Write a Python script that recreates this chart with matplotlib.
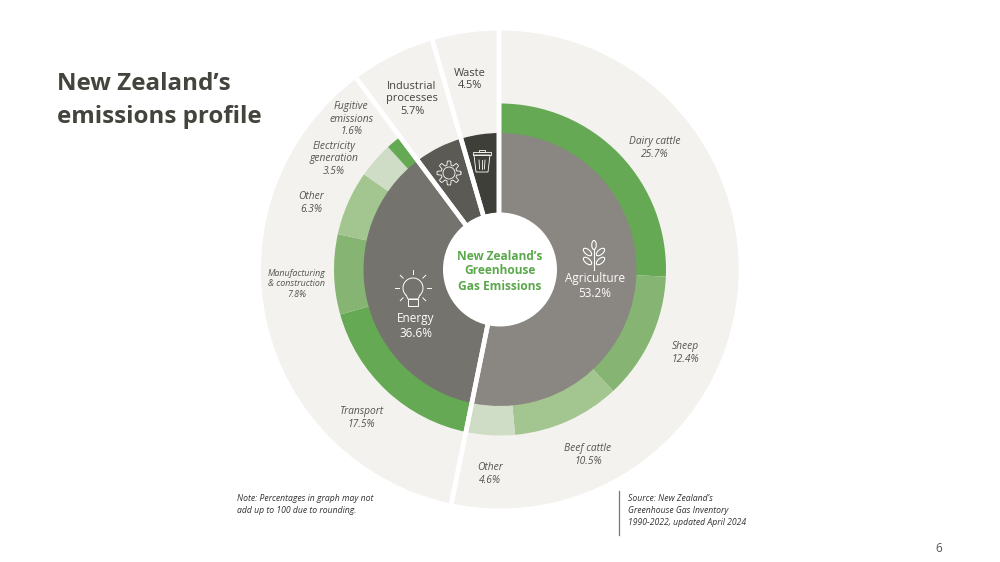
import matplotlib
matplotlib.use('Agg')
import matplotlib.pyplot as plt
import numpy as np
from matplotlib.patches import Circle, Ellipse, Polygon, Rectangle

plt.rcParams['font.family'] = ['Open Sans', 'DejaVu Sans']

# data
sector_names = ["Agriculture", "Energy", "Industrial\nprocesses", "Waste"]
sector_values = [53.2, 36.6, 5.7, 4.5]
sector_colors = ["#8a8681", "#75736d", "#5c5a54", "#3f3f39"]

source_names = ["Dairy cattle", "Sheep", "Beef cattle", "Other", "Transport",
                "Manufacturing\n& construction", "Other", "Electricity\ngeneration",
                "Fugitive\nemissions"]
source_values = [25.7, 12.4, 10.5, 4.6, 17.5, 7.8, 6.3, 3.5, 1.6]
source_colors = ["#66a955", "#86b573", "#a3c58f", "#cfddc6", "#66a955",
                 "#86b573", "#a3c58f", "#cfddc6", "#66a955"]

CX, CY = 500, 269.5
R_OUT, R_MID, R_IN, R_HOLE = 239, 166, 136.5, 57
BG = "#f3f2ee"
DARK = "#44443e"
GREEN = "#5aa84b"


def Y(y):
    # picture rows run downwards
    return 562 - y


def ring(ax, values, colors, radius, cx=CX, **kw):
    props = dict(linewidth=0)
    props.update(kw)
    ax.pie(values, colors=colors, radius=radius, center=(cx, Y(CY)), startangle=90,
           counterclock=False, wedgeprops=props, frame=True)


def label(ax, x, y, s, size=8, color="#55554f", style='italic', weight='normal', **kw):
    ax.text(x, Y(y), s, fontsize=size, color=color, style=style, weight=weight,
            ha='center', va='center', linespacing=1.2, **kw)


def gear(ax, x, y):
    t = np.linspace(0, 2 * np.pi, 193)
    r = 10 + 2 * np.clip(2.2 * np.cos(8 * t), -1, 1)
    ax.plot(x + r * np.cos(t), Y(y) + r * np.sin(t), color="white", lw=0.6)
    ax.add_patch(Circle((x, Y(y)), 6, fill=False, ec="white", lw=0.6))


def trash(ax, x, y):
    ax.add_patch(Polygon([(x - 8, Y(y - 6)), (x + 8, Y(y - 6)), (x + 6, Y(y + 11)), (x - 6, Y(y + 11))],
                         fill=False, ec="white", lw=0.6))
    ax.add_patch(Rectangle((x - 9, Y(y - 6)), 18, 3, fill=False, ec="white", lw=0.6))
    ax.add_patch(Rectangle((x - 3, Y(y - 6) + 3), 6, 2.5, fill=False, ec="white", lw=0.6))
    for dx in [-3, 0, 3]:
        ax.plot([x + dx, x + dx * 0.8], [Y(y - 1), Y(y + 8)], color="white", lw=0.6)


def bulb(ax, x, y):
    t = np.linspace(-0.25 * np.pi, 1.25 * np.pi, 60)
    ax.plot(x + 10 * np.cos(t), Y(y) + 10 * np.sin(t), color="white", lw=0.7)
    ax.plot([x - 7, x - 5, x + 5, x + 7], [Y(y + 7), Y(y + 11), Y(y + 11), Y(y + 7)], color="white", lw=0.7)
    ax.add_patch(Rectangle((x - 5, Y(y + 18)), 10, 7, fill=False, ec="white", lw=0.7))
    for a in [0, 45, 90, 135, 180, 225, 315]:
        c, s = np.cos(np.radians(a)), np.sin(np.radians(a))
        ax.plot([x + 14 * c, x + 18 * c], [Y(y) + 14 * s, Y(y) + 18 * s], color="white", lw=0.7)


def plant(ax, x, y):
    ax.plot([x, x], [Y(y - 6), Y(y + 15)], color="white", lw=0.8)
    ax.add_patch(Ellipse((x, Y(y - 10)), 4.5, 9, fill=False, ec="white", lw=0.8))
    for side in [-1, 1]:
        for dy in [-3, 6]:
            ax.add_patch(Ellipse((x + side * 6.5, Y(y + dy)), 10, 5, angle=side * 40,
                                 fill=False, ec="white", lw=0.8))


def main():
    fig = plt.figure(figsize=(10, 5.62), dpi=100)
    ax = fig.add_axes([0, 0, 1, 1])

    # light background, middle ring with gaps for the two small sectors, inner ring on top
    ring(ax, sector_values, [BG] * 4, R_OUT)
    mid_values = source_values + sector_values[2:]
    mid_colors = source_colors + ["none", "none"]
    ring(ax, mid_values, mid_colors, R_MID)
    ring(ax, sector_values, sector_colors, R_IN)
    # white cuts between the sectors, hole on top
    ring(ax, sector_values, ["none"] * 4, R_OUT + 3, cx=CX - 1, linewidth=3.3, edgecolor="white")
    ax.add_patch(Circle((CX, Y(CY)), R_HOLE, fc="white", ec="none", zorder=5))

    ax.set_xlim(0, 1000)
    ax.set_ylim(0, 562)
    ax.axis('off')

    ax.text(57, Y(100.5), "New Zealand\u2019s\nemissions profile", fontsize=17.4, weight='bold',
            color=DARK, ha='left', va='center', linespacing=1.53)

    label(ax, 500, 271, "New Zealand\u2019s\nGreenhouse\nGas Emissions", size=8.6, color=GREEN,
          style='normal', weight='bold', zorder=6)

    label(ax, 595, 286, f"{sector_names[0]}\n{sector_values[0]}%", size=8.5, color="white", style='normal')
    label(ax, 416, 326, f"{sector_names[1]}\n{sector_values[1]}%", size=8.5, color="white", style='normal')
    label(ax, 412, 99, f"{sector_names[2]}\n{sector_values[2]}%", size=7.9, color=DARK, style='normal')
    label(ax, 470, 79.5, f"{sector_names[3]}\n{sector_values[3]}%", size=7.9, color=DARK, style='normal')

    source_xy = [(655, 148), (685, 353), (588, 455), (490, 474), (361, 418),
                 (297, 284), (311, 203), (334, 159), (351, 119)]
    for i, (name, val) in enumerate(zip(source_names, source_values)):
        size = 6.4 if name.startswith("Manu") else 7.4
        label(ax, source_xy[i][0], source_xy[i][1], f"{name}\n{val}%", size=size)

    gear(ax, 449, 173)
    trash(ax, 482, 161)
    bulb(ax, 413, 288)
    plant(ax, 594, 255)

    ax.text(237, Y(504.5), "Note: Percentages in graph may not\nadd up to 100 due to rounding.", fontsize=6.2,
            style='italic', color="#333333", ha='left', va='center', linespacing=1.42)
    ax.text(628, Y(510.5), "Source: New Zealand\u2019s\nGreenhouse Gas Inventory\n1990-2022, updated April 2024",
            fontsize=6.2, style='italic', color="#333333", ha='left', va='center', linespacing=1.42)
    ax.plot([619, 619], [Y(491), Y(535)], color="#777777", lw=0.9)
    ax.text(939, Y(548), "6", fontsize=8.5, color="#555555", ha='center', va='center')

    fig.savefig("out.png", dpi=100)


if __name__ == "__main__":
    main()
